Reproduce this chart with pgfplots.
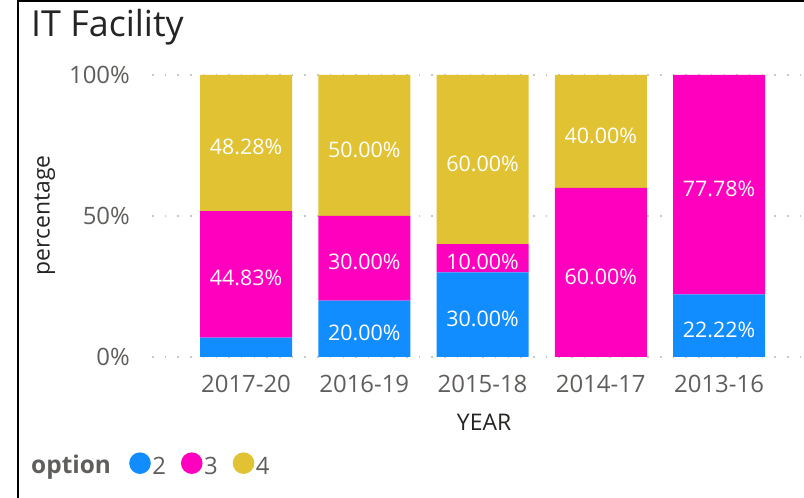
\documentclass[border=0pt]{standalone}
\usepackage{pgfplots}
\pgfplotsset{compat=1.18}
\usepackage{fontspec}
\setmainfont{Open Sans}
\definecolor{c2}{HTML}{118DFF}
\definecolor{c3}{HTML}{FF00BF}
\definecolor{c4}{HTML}{E1C233}
\definecolor{txtdark}{HTML}{252423}
\definecolor{txtgray}{HTML}{605E5C}
\definecolor{gridc}{HTML}{C8C8C8}
\begin{document}
\begin{tikzpicture}
\path[use as bounding box] (0,0) rectangle (804bp,498bp);
\draw[black, line width=2.5bp] (18bp,0) -- (18bp,496.75bp) -- (804bp,496.75bp);
\node[anchor=base west, inner sep=0, text=txtdark, font=\fontsize{36}{42}\selectfont] at (31bp,461bp) {IT Facility};
\node[anchor=base west, inner sep=0, text=txtgray, font=\fontsize{24.5}{28}\selectfont\bfseries] at (31bp,25bp) {option};
\begin{axis}[
  at={(152bp,141bp)}, anchor=south west,
  scale only axis, width=649.8bp, height=282bp,
  xmin=-0.795, xmax=4.7, ymin=0, ymax=100,
  ybar stacked, bar width=92bp,
  axis line style={draw=none},
  major tick length=0pt,
  xtick={0,1,2,3,4},
  xticklabels={2017-20,2016-19,2015-18,2014-17,2013-16},
  ytick={0,50,100},
  yticklabels={0\%,50\%,100\%},
  ymajorgrids,
  grid style={gridc, line width=1.5bp, dash pattern=on 1.5bp off 11.2bp},
  xticklabel style={anchor=base, yshift=-35bp, inner sep=0pt, text=txtgray, font=\fontsize{24}{28}\selectfont},
  yticklabel style={anchor=east, xshift=-22bp, inner sep=0pt, text=txtgray, font=\fontsize{24}{28}\selectfont},
  xlabel={YEAR}, ylabel={percentage},
  xlabel style={at={(axis description cs:0.511,-0.23)}, anchor=center, text=txtdark, font=\fontsize{23}{26}\selectfont},
  ylabel style={at={(axis description cs:-0.165,0.503)}, anchor=center, text=txtdark, font=\fontsize{23}{26}\selectfont},
  legend columns=-1,
  legend image code/.code={\fill[#1] (10.8bp,0.36em) circle (10.8bp);},
  legend style={at={(axis description cs:-0.0354,-0.383)}, anchor=west, draw=none, fill=none, inner sep=0pt,
    font=\fontsize{24}{28}\selectfont, text=txtgray, nodes={inner sep=1.5bp},
    /tikz/every even column/.append style={column sep=13.5bp}},
]
\addplot[fill=c2, draw=none] coordinates {(0,6.90) (1,20) (2,30) (3,0) (4,22.22)};
\addplot[fill=c3, draw=none] coordinates {(0,44.83) (1,30) (2,10) (3,60) (4,77.78)};
\addplot[fill=c4, draw=none] coordinates {(0,48.28) (1,50) (2,60) (3,40) (4,0)};
\legend{2,3,4}
\end{axis}
\begin{axis}[
  at={(152bp,141bp)}, anchor=south west,
  scale only axis, width=649.8bp, height=282bp,
  xmin=-0.795, xmax=4.7, ymin=0, ymax=100,
  hide axis, clip=false,
]
\addplot[only marks, mark=*, mark size=0pt, mark options={draw=none, fill=none},
  nodes near coords, point meta=explicit symbolic,
  nodes near coords style={anchor=center, yshift=-4bp, text=white, inner sep=0pt, font=\fontsize{21.5}{25}\selectfont}]
  coordinates {
  (0,75.86) [48.28\%]
  (0,29.315) [44.83\%]
  (1,75) [50.00\%]
  (1,35) [30.00\%]
  (1,10) [20.00\%]
  (2,70) [60.00\%]
  (2,35) [10.00\%]
  (2,15) [30.00\%]
  (3,80) [40.00\%]
  (3,30) [60.00\%]
  (4,61.11) [77.78\%]
  (4,11.11) [22.22\%]
};
\end{axis}
\end{tikzpicture}
\end{document}
